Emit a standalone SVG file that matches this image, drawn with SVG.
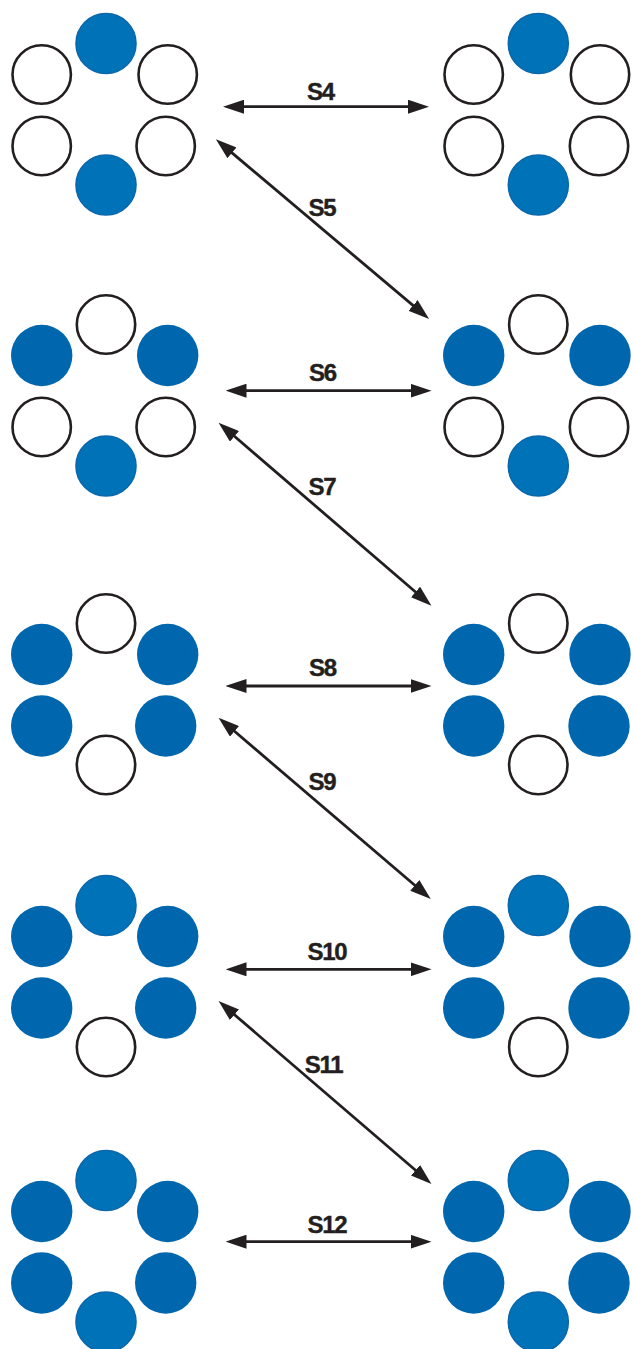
<svg xmlns="http://www.w3.org/2000/svg" width="633" height="1349" viewBox="0 0 633 1349">
<style>
.e{fill:#fff;stroke:#231f20;stroke-width:2.6}
.f{fill:#0067ae}
.t{fill:#0073b8;stroke:#0a67ac;stroke-width:1.6}
.c{stroke:#231f20;stroke-width:2.8;fill:none;marker-start:url(#ah);marker-end:url(#ah)}
.lbl{font-family:"Liberation Sans",Arial,sans-serif;font-weight:bold;font-size:24px;fill:#231f20;text-anchor:middle;letter-spacing:-1.3px;stroke:#231f20;stroke-width:0.4}
</style>
<defs>
<marker id="ah" markerUnits="userSpaceOnUse" viewBox="0 0 21 14" refX="10" refY="7" markerWidth="21" markerHeight="14" orient="auto-start-reverse">
<path d="M0,0 L21,7 L0,14 z" fill="#231f20"/>
</marker>
</defs>

<g id="r1-left" transform="translate(106,43.5)">
<circle class="t" cx="0" cy="0" r="30"/>
<circle class="e" cx="-64.3" cy="31" r="29.2"/>
<circle class="e" cx="61.7" cy="31" r="29.2"/>
<circle class="e" cx="-64.3" cy="102.5" r="29.2"/>
<circle class="e" cx="59.7" cy="102.5" r="29.2"/>
<circle class="t" cx="0" cy="141.5" r="30"/>
</g>
<g id="r1-right" transform="translate(538.3,43.5)">
<circle class="t" cx="0" cy="0" r="30"/>
<circle class="e" cx="-64.6" cy="31" r="29.2"/>
<circle class="e" cx="61.7" cy="31" r="29.2"/>
<circle class="e" cx="-64.6" cy="102.5" r="29.2"/>
<circle class="e" cx="60.7" cy="102.5" r="29.2"/>
<circle class="t" cx="0" cy="141.5" r="30"/>
</g>

<g id="r2-left" transform="translate(106,324.5)">
<circle class="e" cx="0" cy="0" r="29.2"/>
<circle class="f" cx="-64.3" cy="31" r="30.7"/>
<circle class="f" cx="61.7" cy="31" r="30.7"/>
<circle class="e" cx="-64.3" cy="102.5" r="29.2"/>
<circle class="e" cx="59.7" cy="102.5" r="29.2"/>
<circle class="t" cx="0" cy="141.5" r="30"/>
</g>
<g id="r2-right" transform="translate(538.3,324.5)">
<circle class="e" cx="0" cy="0" r="29.2"/>
<circle class="f" cx="-64.6" cy="31" r="30.7"/>
<circle class="f" cx="61.7" cy="31" r="30.7"/>
<circle class="e" cx="-64.6" cy="102.5" r="29.2"/>
<circle class="e" cx="60.7" cy="102.5" r="29.2"/>
<circle class="t" cx="0" cy="141.5" r="30"/>
</g>

<g id="r3-left" transform="translate(106,623.5)">
<circle class="e" cx="0" cy="0" r="29.2"/>
<circle class="f" cx="-64.3" cy="31" r="30.7"/>
<circle class="f" cx="61.7" cy="31" r="30.7"/>
<circle class="f" cx="-64.3" cy="102.5" r="30.7"/>
<circle class="f" cx="59.7" cy="102.5" r="30.7"/>
<circle class="e" cx="0" cy="141.5" r="29.2"/>
</g>
<g id="r3-right" transform="translate(538.3,623.5)">
<circle class="e" cx="0" cy="0" r="29.2"/>
<circle class="f" cx="-64.6" cy="31" r="30.7"/>
<circle class="f" cx="61.7" cy="31" r="30.7"/>
<circle class="f" cx="-64.6" cy="102.5" r="30.7"/>
<circle class="f" cx="60.7" cy="102.5" r="30.7"/>
<circle class="e" cx="0" cy="141.5" r="29.2"/>
</g>

<g id="r4-left" transform="translate(106,905.5)">
<circle class="t" cx="0" cy="0" r="30"/>
<circle class="f" cx="-64.3" cy="31" r="30.7"/>
<circle class="f" cx="61.7" cy="31" r="30.7"/>
<circle class="f" cx="-64.3" cy="102.5" r="30.7"/>
<circle class="f" cx="59.7" cy="102.5" r="30.7"/>
<circle class="e" cx="0" cy="141.5" r="29.2"/>
</g>
<g id="r4-right" transform="translate(538.3,905.5)">
<circle class="t" cx="0" cy="0" r="30"/>
<circle class="f" cx="-64.6" cy="31" r="30.7"/>
<circle class="f" cx="61.7" cy="31" r="30.7"/>
<circle class="f" cx="-64.6" cy="102.5" r="30.7"/>
<circle class="f" cx="60.7" cy="102.5" r="30.7"/>
<circle class="e" cx="0" cy="141.5" r="29.2"/>
</g>

<g id="r5-left" transform="translate(106,1180.5)">
<circle class="t" cx="0" cy="0" r="30"/>
<circle class="f" cx="-64.3" cy="31" r="30.7"/>
<circle class="f" cx="61.7" cy="31" r="30.7"/>
<circle class="f" cx="-64.3" cy="102.5" r="30.7"/>
<circle class="f" cx="59.7" cy="102.5" r="30.7"/>
<circle class="t" cx="0" cy="141.5" r="30"/>
</g>
<g id="r5-right" transform="translate(538.3,1180.5)">
<circle class="t" cx="0" cy="0" r="30"/>
<circle class="f" cx="-64.6" cy="31" r="30.7"/>
<circle class="f" cx="61.7" cy="31" r="30.7"/>
<circle class="f" cx="-64.6" cy="102.5" r="30.7"/>
<circle class="f" cx="60.7" cy="102.5" r="30.7"/>
<circle class="t" cx="0" cy="141.5" r="30"/>
</g>

<g id="connectors">
<line class="c" x1="234" y1="106.7" x2="418" y2="106.7"/>
<line class="c" x1="224.3" y1="146.4" x2="420.7" y2="311.9"/>
<line class="c" x1="236.5" y1="390.7" x2="420.5" y2="390.7"/>
<line class="c" x1="226.9" y1="429.8" x2="423.1" y2="598.5"/>
<line class="c" x1="236.5" y1="686" x2="420.5" y2="686"/>
<line class="c" x1="226.9" y1="724.8" x2="422.4" y2="891.8"/>
<line class="c" x1="236.5" y1="969.3" x2="420.5" y2="969.3"/>
<line class="c" x1="226.9" y1="1008.2" x2="423.1" y2="1176.8"/>
<line class="c" x1="236.5" y1="1241.7" x2="420.5" y2="1241.7"/>
</g>

<g id="labels">
<text class="lbl" x="320.5" y="99.5">S4</text>
<text class="lbl" x="322" y="216">S5</text>
<text class="lbl" x="322.5" y="380.7">S6</text>
<text class="lbl" x="322" y="495">S7</text>
<text class="lbl" x="322.5" y="676">S8</text>
<text class="lbl" x="322" y="790">S9</text>
<text class="lbl" x="327" y="960">S10</text>
<text class="lbl" x="323.5" y="1073.3">S11</text>
<text class="lbl" x="327" y="1232.7">S12</text>
</g>
</svg>
